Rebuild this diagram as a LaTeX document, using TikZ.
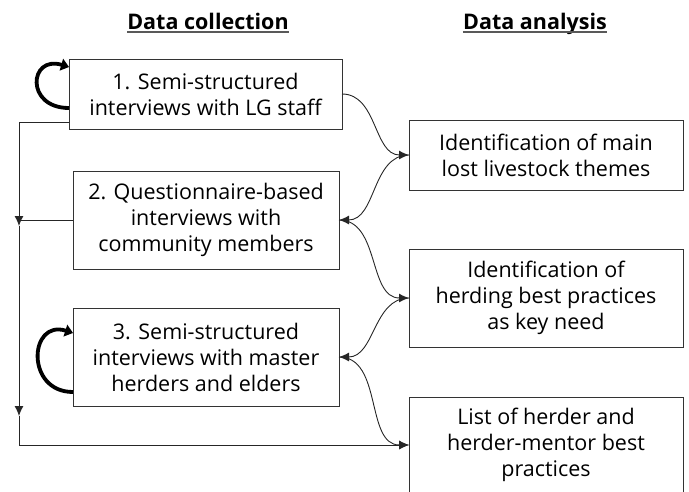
\documentclass[tikz,border=0pt]{standalone}
\usepackage{fontspec}
\setmainfont{Open Sans}
\usetikzlibrary{arrows.meta, positioning}

\tikzset{
	stepbox/.style={draw=black!80, line width=0.9pt, align=center, inner sep=0pt, outer sep=0pt,
		font=\fontsize{21.5}{26}\selectfont},
	head/.style={inner sep=0pt, anchor=base, font=\fontsize{21.5}{24}\selectfont\bfseries},
	uline/.style={black!65, line width=1.8pt},
	line/.style={black!85, line width=0.9pt},
	tip/.style={-{Latex[length=10pt,width=9pt]}},
	loopar/.style={black, line width=3.8pt, -{Triangle[length=8pt,width=12pt]}}
}

\begin{document}
\begin{tikzpicture}[x=1pt, y=-1pt]
	\useasboundingbox (0,0) rectangle (689,491);

	%%%% headings
	\node[head] (hcol) at (208,29) {Data collection};
	\node[head] (hana) at (535,29) {Data analysis};
	\draw[uline] ([yshift=-3pt]hcol.base west) -- ([yshift=-3pt]hcol.base east);
	\draw[uline] ([yshift=-3pt]hana.base west) -- ([yshift=-3pt]hana.base east);

	%%%% data collection
	\node[stepbox, minimum width=273pt, minimum height=70pt] (col1) at (205.5,94) {1. Semi-structured\\interviews with LG staff};
	\node[stepbox, minimum width=266pt, minimum height=98pt] (col2) at (206,220) {2. Questionnaire-based\\interviews with\\community members};
	\node[stepbox, minimum width=266pt, minimum height=98pt] (col3) at (206,357) {3. Semi-structured\\interviews with master\\herders and elders};

	%%%% data analysis
	\node[stepbox, minimum width=274pt, minimum height=70pt] (anaA) at (546,155) {Identification of main\\lost livestock themes};
	\node[stepbox, minimum width=274pt, minimum height=98pt] (anaB) at (546,298) {Identification of\\herding best practices\\as key need};
	\node[stepbox, minimum width=274pt, minimum height=96pt] (lstC) at (546,445) {List of herder and\\herder-mentor best\\practices};

	%%%% left return line
	\coordinate (l1) at (19,122);
	\coordinate (l2) at (19,226);
	\coordinate (l3) at (19,416);
	\coordinate (l4) at (19,445);
	\draw[line, tip] ([yshift=-28pt]col1.west) -- (l1) -- (l2);
	\draw[line] (col2.west) -- (col2.west -| l1);
	\draw[line, tip] (l2) -- (l3);
	\draw[line, tip] (l3) -- (l4) -- (lstC.west);

	%%%% curved links
	\draw[line, tip] (col1.east) to[out=0, in=180] (anaA.west);
	\draw[line, tip] (anaA.west) to[out=180, in=0] (col2.east);
	\draw[line, tip] (col2.east) to[out=0, in=180] (anaB.west);
	\draw[line, tip] (anaB.west) to[out=180, in=0] (col3.east);
	\draw[line, tip] (col3.east) to[out=0, in=180] (lstC.west);

	%%%% repeat loops
	\draw[loopar] ([yshift=-14pt]col1.west) .. controls +(-44,0) and +(-40,-12) .. ([yshift=27pt]col1.west);
	\draw[loopar] ([yshift=-35pt]col3.west) .. controls +(-48,0) and +(-44,-14) .. ([yshift=24pt]col3.west);
\end{tikzpicture}
\end{document}
